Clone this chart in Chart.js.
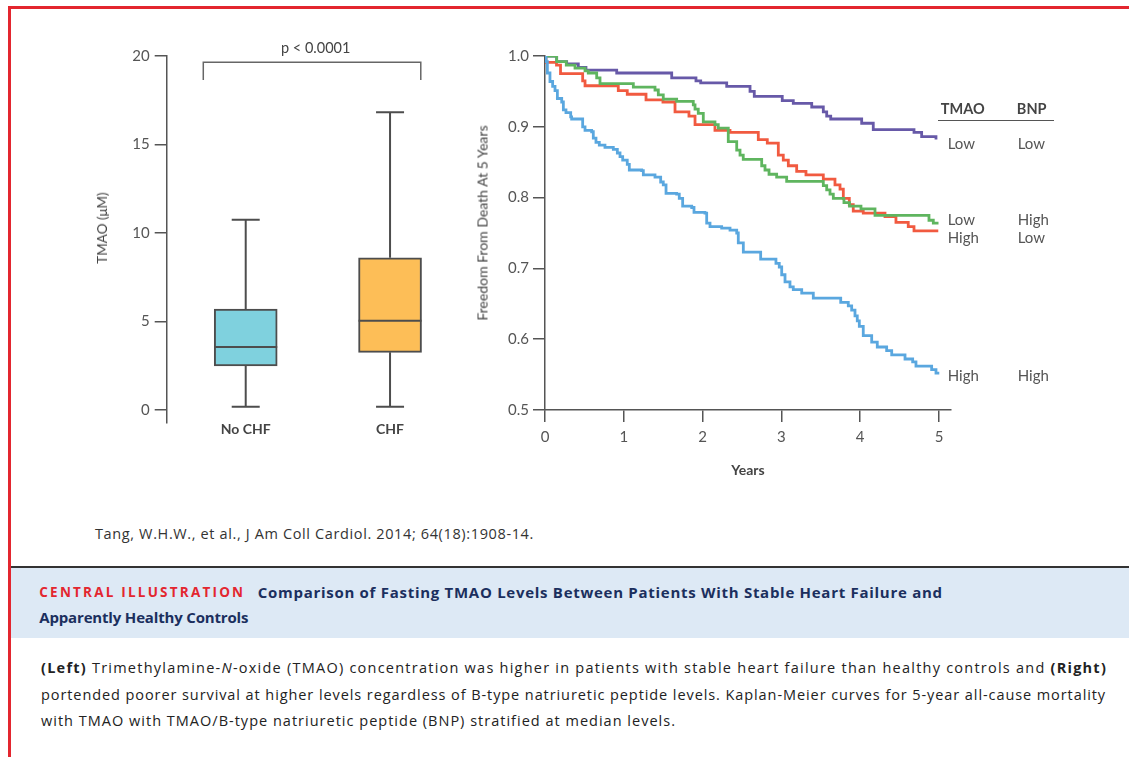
<!DOCTYPE html>
<html>
<head>
<meta charset="utf-8">
<script src="https://cdn.jsdelivr.net/npm/chart.js@4.4.1/dist/chart.umd.min.js"></script>
<style>
  body { margin: 0; background: #fff; font-family: Lato, 'Open Sans', sans-serif; }
  #page { position: relative; width: 1129px; height: 757px; overflow: hidden; background: #fff; }
  .abs { position: absolute; white-space: nowrap; line-height: 20px; }
  .txt { font-family: 'Open Sans', sans-serif; }
  canvas { position: absolute; }
  .lg { font-size: 15px; color: #555; }
  .hd { font-size: 14.5px; color: #444; font-weight: 700; }
  .cap { font-size: 14.5px; color: #222; }
  .rot { position: absolute; white-space: nowrap; transform: translate(-50%, -50%) rotate(-90deg); color: #444; }
</style>
</head>
<body>
<div id="page">
  <div class="abs" style="left:8px;top:6px;width:1121px;height:3px;background:#e3262f"></div>
  <div class="abs" style="left:8px;top:6px;width:3px;height:751px;background:#e3262f"></div>

  <canvas id="boxChart" width="480" height="440" style="left:0;top:20px"></canvas>
  <canvas id="kmChart" width="640" height="460" style="left:460px;top:30px"></canvas>

  <div class="rot" style="left:101.7px;top:228px;font-size:13.5px">TMAO (μM)</div>
  <div class="rot" style="left:481.7px;top:222.5px;font-size:14px">Freedom From Death At 5 Years</div>

  <div class="abs" style="left:215.7px;top:38px;width:200px;text-align:center;font-size:14.5px;color:#444">p &lt; 0.0001</div>

  <!-- legend table for the survival curves -->
  <div class="abs hd" style="left:912.7px;top:99px;width:100px;text-align:center">TMAO</div>
  <div class="abs hd" style="left:981.7px;top:99px;width:100px;text-align:center">BNP</div>
  <div class="abs" style="left:937.7px;top:119.5px;width:116.6px;height:1.5px;background:#555"></div>
  <div class="abs lg" style="left:947.7px;top:133.3px">Low</div>
  <div class="abs lg" style="left:1017.7px;top:133.3px">Low</div>
  <div class="abs lg" style="left:947.7px;top:209px">Low</div>
  <div class="abs lg" style="left:1017.7px;top:209px">High</div>
  <div class="abs lg" style="left:947.7px;top:227.3px">High</div>
  <div class="abs lg" style="left:1017.7px;top:227.3px">Low</div>
  <div class="abs lg" style="left:947.7px;top:365px">High</div>
  <div class="abs lg" style="left:1017.7px;top:365px">High</div>

  <div class="abs txt fit" data-w="439" style="left:95px;top:524px;font-size:14.5px;color:#333">Tang, W.H.W., et al., J Am Coll Cardiol. 2014; 64(18):1908-14.</div>

  <div class="abs" style="left:11px;top:566px;width:1118px;height:2px;background:#333"></div>
  <div class="abs" style="left:11px;top:568px;width:1118px;height:70px;background:#dde9f5"></div>
  <div class="abs txt fit" data-w="206" style="left:39.3px;top:582px;font-size:13.5px;font-weight:700;color:#e3262f">CENTRAL ILLUSTRATION</div>
  <div class="abs txt fit" data-w="685" style="left:257.7px;top:582px;font-size:15px;font-weight:700;color:#1b2f5e">Comparison of Fasting TMAO Levels Between Patients With Stable Heart Failure and</div>
  <div class="abs txt fit" data-w="209" style="left:39.3px;top:607px;font-size:15px;font-weight:700;color:#1b2f5e">Apparently Healthy Controls</div>

  <div class="abs txt cap fit" data-w="1066" style="left:41px;top:658px"><b>(Left)</b> Trimethylamine-<i>N</i>-oxide (TMAO) concentration was higher in patients with stable heart failure than healthy controls and <b>(Right)</b></div>
  <div class="abs txt cap fit" data-w="1065" style="left:41px;top:685px">portended poorer survival at higher levels regardless of B-type natriuretic peptide levels. Kaplan-Meier curves for 5-year all-cause mortality</div>
  <div class="abs txt cap fit" data-w="635" style="left:41px;top:711px">with TMAO with TMAO/B-type natriuretic peptide (BNP) stratified at median levels.</div>
</div>

<script>
// --- DATOS: DIAGRAMA DE CAJAS ---
const groups = ['No CHF', 'CHF'];
const groupPos = [1, 2];
const boxMin = [0.19, 0.19];
const boxQ1 = [2.49, 3.26];
const boxMedian = [3.56, 5.05];
const boxQ3 = [5.71, 8.60];
const boxMax = [10.75, 16.82];
const boxColors = ['#7fd1de', '#fdbe57'];
const boxTicks = [0, 5, 10, 15, 20];
// corchete del p-valor (x en posiciones de grupo, y en µM)
const bracketX = [0.706, 0.706, 2.213, 2.213];
const bracketY = [18.64, 19.64, 19.64, 18.64];

// --- DATOS: KAPLAN-MEIER ---
const yearTicks = [0, 1, 2, 3, 4, 5];
const survTicks = [0.5, 0.6, 0.7, 0.8, 0.9, 1.0];

const lowLowT = [0, 0.148, 0.275, 0.423, 0.520, 0.910, 1.608, 1.916, 1.976, 2.306, 2.602, 2.656, 3.011, 3.151, 3.385, 3.532, 3.575, 3.626, 4.019, 4.166, 4.683, 4.780, 4.962];
const lowLowS = [1, 0.992, 0.989, 0.984, 0.980, 0.976, 0.969, 0.965, 0.962, 0.957, 0.950, 0.943, 0.937, 0.933, 0.928, 0.921, 0.915, 0.911, 0.905, 0.896, 0.892, 0.886, 0.882];

const highLowT = [0, 0.013, 0.146, 0.197, 0.478, 0.508, 0.930, 1.044, 1.282, 1.497, 1.650, 1.827, 1.904, 2.157, 2.348, 2.707, 2.821, 2.961, 3.024, 3.088, 3.194, 3.312, 3.532, 3.680, 3.744, 3.786, 3.862, 3.912, 4.039, 4.315, 4.454, 4.610, 4.683, 4.991];
const highLowS = [1, 0.991, 0.987, 0.975, 0.965, 0.958, 0.951, 0.946, 0.938, 0.935, 0.921, 0.915, 0.903, 0.895, 0.892, 0.882, 0.877, 0.860, 0.853, 0.845, 0.837, 0.832, 0.826, 0.818, 0.812, 0.799, 0.790, 0.781, 0.778, 0.773, 0.765, 0.759, 0.753, 0.753];

const lowHighT = [0, 0.148, 0.27, 0.381, 0.508, 0.549, 0.656, 0.698, 1.121, 1.396, 1.438, 1.501, 1.671, 1.882, 1.904, 1.945, 2.009, 2.157, 2.199, 2.326, 2.433, 2.475, 2.516, 2.750, 2.792, 2.843, 2.940, 3.067, 3.532, 3.575, 3.617, 3.659, 3.794, 3.864, 4.010, 4.188, 4.873, 4.928, 4.994];
const lowHighS = [1, 0.992, 0.987, 0.983, 0.979, 0.976, 0.969, 0.961, 0.956, 0.952, 0.945, 0.939, 0.936, 0.931, 0.925, 0.919, 0.907, 0.903, 0.898, 0.879, 0.867, 0.860, 0.854, 0.845, 0.839, 0.833, 0.829, 0.823, 0.817, 0.811, 0.805, 0.799, 0.793, 0.788, 0.784, 0.775, 0.768, 0.764, 0.764];

const highHighT = [0, 0.013, 0.030, 0.063, 0.097, 0.127, 0.157, 0.212, 0.233, 0.266, 0.326, 0.338, 0.478, 0.508, 0.592, 0.613, 0.647, 0.689, 0.761, 0.867, 0.918, 0.952, 0.986, 1.044, 1.070, 1.227, 1.248, 1.396, 1.468, 1.501, 1.536, 1.671, 1.704, 1.747, 1.862, 1.891, 2.030, 2.052, 2.094, 2.242, 2.348, 2.433, 2.453, 2.517, 2.737, 2.931, 2.973, 3.004, 3.046, 3.109, 3.151, 3.258, 3.405, 3.753, 3.849, 3.892, 3.934, 3.963, 3.989, 4.039, 4.146, 4.217, 4.336, 4.400, 4.569, 4.666, 4.708, 4.907, 4.962, 5.004];
const highHighS = [1, 0.992, 0.976, 0.964, 0.957, 0.951, 0.940, 0.935, 0.924, 0.920, 0.914, 0.911, 0.900, 0.895, 0.893, 0.884, 0.878, 0.874, 0.871, 0.868, 0.863, 0.858, 0.853, 0.847, 0.839, 0.838, 0.832, 0.829, 0.822, 0.818, 0.806, 0.805, 0.799, 0.788, 0.786, 0.779, 0.778, 0.764, 0.759, 0.757, 0.754, 0.750, 0.736, 0.723, 0.713, 0.707, 0.702, 0.691, 0.681, 0.674, 0.670, 0.665, 0.658, 0.652, 0.647, 0.641, 0.633, 0.626, 0.618, 0.605, 0.596, 0.589, 0.584, 0.578, 0.572, 0.568, 0.562, 0.557, 0.552, 0.552];

const AXIS = '#555';
const INK = '#4d4d4d';

Chart.defaults.font.family = "Lato, 'Open Sans', sans-serif";
Chart.defaults.color = AXIS;

// sin margen extra por las etiquetas: el área del gráfico queda fija
function noPad(s) {
  s.paddingLeft = 0; s.paddingRight = 0; s.paddingTop = 0; s.paddingBottom = 0;
}

// --- DIAGRAMA DE CAJAS ---
function whisker(i, from, to) {
  return {
    type: 'line',
    data: [{ x: groupPos[i], y: from[i] }, { x: groupPos[i], y: to[i] }],
    borderColor: INK,
    borderWidth: 2,
    pointStyle: 'line',
    pointRadius: [0, 14],
    pointBorderColor: INK,
    pointBorderWidth: 2,
    order: 3
  };
}

const boxDatasets = [
  {
    type: 'bar',
    data: groupPos.map((x, i) => ({ x: x, y: [boxQ1[i], boxQ3[i]] })),
    backgroundColor: boxColors,
    borderColor: INK,
    borderWidth: 2,
    borderSkipped: false,
    barThickness: 63,
    order: 2
  },
  {
    type: 'scatter',
    data: groupPos.map((x, i) => ({ x: x, y: boxMedian[i] })),
    pointStyle: 'line',
    pointRadius: 31.5,
    pointBorderColor: INK,
    pointBorderWidth: 2,
    order: 1
  },
  {
    type: 'line',
    data: bracketX.map((x, i) => ({ x: x, y: bracketY[i] })),
    borderColor: '#666',
    borderWidth: 1.5,
    pointRadius: 0,
    order: 4
  }
];
groupPos.forEach((_, i) => {
  boxDatasets.push(whisker(i, boxQ3, boxMax));
  boxDatasets.push(whisker(i, boxQ1, boxMin));
});

new Chart(document.getElementById('boxChart'), {
  type: 'bar',
  data: { datasets: boxDatasets },
  options: {
    responsive: false,
    animation: false,
    devicePixelRatio: 1,
    layout: { autoPadding: false, padding: { top: 36, right: 10, left: 0, bottom: 0 } },
    plugins: { legend: { display: false }, tooltip: { enabled: false } },
    scales: {
      x: {
        type: 'linear',
        min: 0.4525,
        max: 2.554,
        offset: false,
        grid: { display: false, drawTicks: false },
        border: { display: false },
        afterBuildTicks: s => { s.ticks = groupPos.map(v => ({ value: v })); },
        afterFit: s => { s.height = 37; noPad(s); },
        ticks: {
          padding: -2,
          color: '#444',
          font: { size: 14, weight: 'bold' },
          callback: v => groups[groupPos.indexOf(v)]
        }
      },
      y: {
        min: -0.73,
        max: 20,
        afterBuildTicks: s => { s.ticks = boxTicks.map(v => ({ value: v })); },
        afterFit: s => { s.width = 166.7; noPad(s); },
        grid: { drawOnChartArea: false, drawTicks: true, tickLength: 12, color: AXIS, lineWidth: 1.5 },
        border: { color: AXIS, width: 1.5 },
        ticks: { padding: 5, color: AXIS, font: { size: 15 } }
      }
    }
  }
});

// --- CURVAS KAPLAN-MEIER ---
function kmSeries(t, s, color) {
  return {
    data: t.map((x, i) => ({ x: x, y: s[i] })),
    borderColor: color,
    borderWidth: 2.8,
    stepped: true,
    pointRadius: 0,
    fill: false
  };
}

new Chart(document.getElementById('kmChart'), {
  type: 'line',
  data: {
    datasets: [
      kmSeries(highHighT, highHighS, '#5aa7df'),
      kmSeries(lowHighT, lowHighS, '#5fb55f'),
      kmSeries(highLowT, highLowS, '#f15a40'),
      kmSeries(lowLowT, lowLowS, '#6759a8')
    ]
  },
  options: {
    responsive: false,
    animation: false,
    devicePixelRatio: 1,
    layout: { autoPadding: false, padding: { top: 26, right: 149.2, left: 0, bottom: 0 } },
    plugins: { legend: { display: false }, tooltip: { enabled: false } },
    scales: {
      x: {
        type: 'linear',
        min: 0,
        max: 5.15,
        afterBuildTicks: s => { s.ticks = yearTicks.map(v => ({ value: v })); },
        afterFit: s => { s.height = 80; noPad(s); },
        grid: { drawOnChartArea: false, drawTicks: true, tickLength: 12, color: AXIS, lineWidth: 1.5 },
        border: { color: AXIS, width: 1.5 },
        ticks: { padding: 6, color: AXIS, font: { size: 15 } },
        title: { display: true, text: 'Years', color: '#444', font: { size: 14, weight: 'bold' }, padding: { bottom: 11 } }
      },
      y: {
        min: 0.5,
        max: 1.0,
        afterBuildTicks: s => { s.ticks = survTicks.map(v => ({ value: v })); },
        afterFit: s => { s.width = 85; noPad(s); },
        grid: { drawOnChartArea: false, drawTicks: true, tickLength: 12, color: AXIS, lineWidth: 1.5 },
        border: { color: AXIS, width: 1.5 },
        ticks: { padding: 4, color: AXIS, font: { size: 15 }, callback: v => v.toFixed(1) }
      }
    }
  }
});

// ajustar el ancho de los textos al original
document.querySelectorAll('.fit').forEach(el => {
  const target = +el.dataset.w;
  const w = el.getBoundingClientRect().width;
  const n = el.textContent.length;
  el.style.letterSpacing = ((target - w) / n).toFixed(3) + 'px';
});
</script>
</body>
</html>
